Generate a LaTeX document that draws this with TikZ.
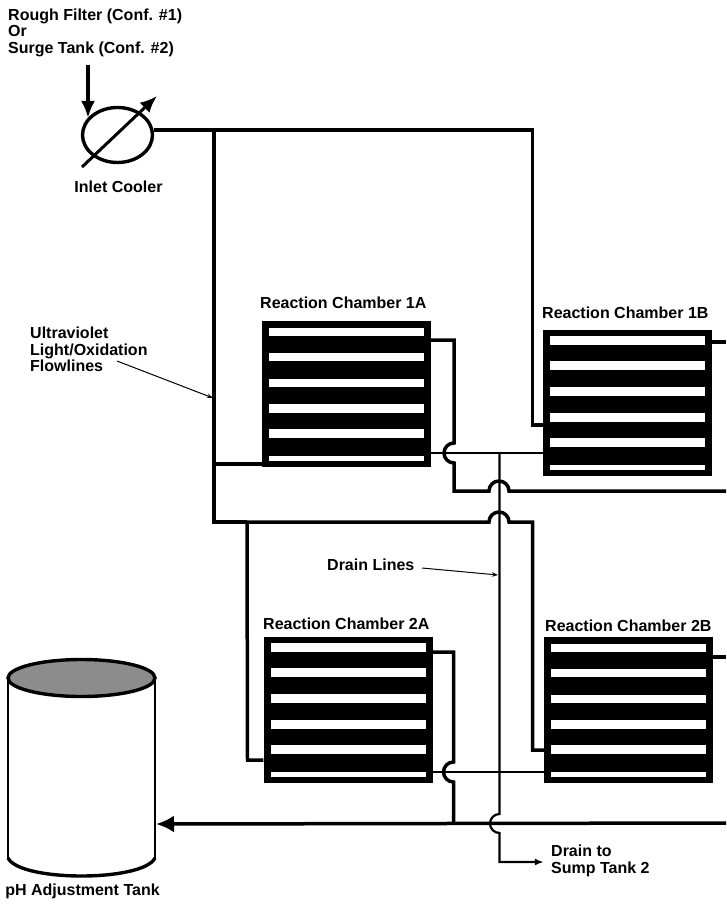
\documentclass[tikz,border=0pt]{standalone}
\usepackage{fontspec}
\setmainfont{Liberation Sans}
\usepackage{tikz}
\usetikzlibrary{arrows.meta,calc,shapes.geometric}

\begin{document}
\begin{tikzpicture}[
    x=1pt, y=-1pt,
    chamber/.style={fill=black, draw=none, inner sep=0pt, minimum width=169pt, minimum height=146pt},
    slot/.style={fill=white, draw=none, inner sep=0pt, minimum width=155pt},
    cooler/.style={draw, ellipse, line width=3.4pt, inner sep=0pt, minimum width=70pt, minimum height=55pt},
    label/.style={font=\bfseries\fontsize{16}{16.5}\selectfont, align=left, inner sep=0pt},
    pipe/.style={line width=3.5pt, line join=miter},
    thinpipe/.style={line width=2pt},
    drain/.style={line width=2.2pt},
    leader/.style={line width=1pt, -{Stealth[length=6pt,width=4.5pt]}},
    feed/.style={pipe, -{Latex[length=18pt,width=17pt]}}
  ]
    \useasboundingbox (0,0) rectangle (726,904);

    % reaction chambers
    \node[chamber] (c1A) at (346.5,394) {};
    \node[chamber] (c1B) at (627.5,402.5) {};
    \node[chamber] (c2A) at (348,709.5) {};
    \node[chamber] (c2B) at (628.5,710) {};
    \foreach \ch in {c1A,c1B,c2A,c2B}
      \foreach \pos/\slotht in {11/8.5, 36/8.5, 62/8.5, 88/9, 113/9, 138/5}
        \node[slot, minimum height=\slotht pt] (\ch\pos) at ($(\ch.north)+(0,\pos)$) {};

    \node[label, anchor=west] (t1A) at (260,303) {Reaction Chamber 1A};
    \node[label, anchor=west] (t1B) at (542,313) {Reaction Chamber 1B};
    \node[label, anchor=west] (t2A) at (263,624) {Reaction Chamber 2A};
    \node[label, anchor=west] (t2B) at (545,626) {Reaction Chamber 2B};

    % inlet cooler
    \node[cooler] (cool) at (117.5,135) {};
    \node[label, anchor=north west] (src) at (8,8.5) {Rough Filter (Conf. \#1)\\Or\\Surge Tank (Conf. \#2)};
    \node[label] (tcool) at (118.5,187) {Inlet Cooler};
    \coordinate (in) at (88,65);
    \coordinate (in2) at (88,118);
    \coordinate (adj1) at (82,167);
    \coordinate (adj2) at (157,96);
    \draw[line width=4.5pt, -{Latex[length=17pt,width=14pt]}] (in) -- (in2);
    \draw[line width=3pt, -{Latex[length=17pt,width=14pt]}] (adj1) -- (adj2);

    % feed lines
    \coordinate (t1) at (214,130);
    \coordinate (t2) at (214,464);
    \coordinate (t3) at (214,522);
    \coordinate (t4) at (247,522);
    \draw[pipe] (cool.east |- t1) -- (532.5,130) -- (532.5,425) -- (c1B.west |- 0,425);
    \draw[pipe] (t1) -- (t3) -- (t4);
    \draw[pipe] (t2) -- (c1A.west |- t2);
    \draw[pipe] (t4) -- (489,522) arc (180:360:10) -- (532.5,522) -- (532.5,750) -- (c2B.west |- 0,750);
    \draw[pipe] (t4) -- (247.5,760) -- (c2A.west |- 0,760);

    % outlet lines
    \draw[pipe] (c1A.east |- 0,340) -- (454,340) -- (454,443) arc (270:90:10) -- (454,491) -- (489,491)
      arc (180:360:10) -- (726,491);
    \draw[pipe] (c2A.east |- 0,652) -- (453.5,652) -- (453.5,762) arc (270:90:10) -- (453.5,823);
    \coordinate (out1B) at (726,342);
    \coordinate (out2B) at (726,657);
    \draw[pipe] (c1B.east |- out1B) -- (out1B);
    \draw[pipe] (c2B.east |- out2B) -- (out2B);
    \coordinate (tankin) at (156,824);
    \draw[feed] (726,823) -- (tankin);

    % drain lines
    \coordinate (d1) at (499.5,453);
    \coordinate (d2) at (499.5,772);
    \coordinate (d3) at (499.5,862);
    \draw[thinpipe] (c1A.east |- d1) -- (c1B.west |- d1);
    \draw[thinpipe] (c2A.east |- d2) -- (c2B.west |- d2);
    \draw[drain, -{Latex[length=9pt,width=7pt]}] (d1) -- (499.5,814) arc (270:90:9.5) -- (d3) -- (c2B.west |- d3);
    \node[label, anchor=north west] (tsump) at (551,845) {Drain to\\Sump Tank 2};

    % leaders
    \node[label, anchor=north west] (tuv) at (30,327) {Ultraviolet\\Light/Oxidation\\Flowlines};
    \node[label, anchor=west] (tdl) at (327,565) {Drain Lines};
    \coordinate (uv0) at (117,361);
    \coordinate (uvtip) at (213,398);
    \coordinate (dl0) at (422,568);
    \coordinate (dltip) at (498,575);
    \draw[leader] (uv0) -- (uvtip);
    \draw[leader] (dl0) -- (dltip);

    % tank
    \coordinate (tl) at (8,678);
    \coordinate (tr) at (155,678);
    \draw[line width=2pt] (tl) -- (8,860);
    \draw[line width=2pt] (tr) -- (155,860);
    \draw[line width=3.4pt] (8,858) .. controls (20,882) and (143,882) .. (155,858);
    \node[draw, ellipse, fill=black!45, line width=3.4pt, inner sep=0pt, minimum width=147pt, minimum height=37pt] (tank) at (81.5,678) {};
    \node[label] (ttank) at (82.5,891) {pH Adjustment Tank};
\end{tikzpicture}
\end{document}
